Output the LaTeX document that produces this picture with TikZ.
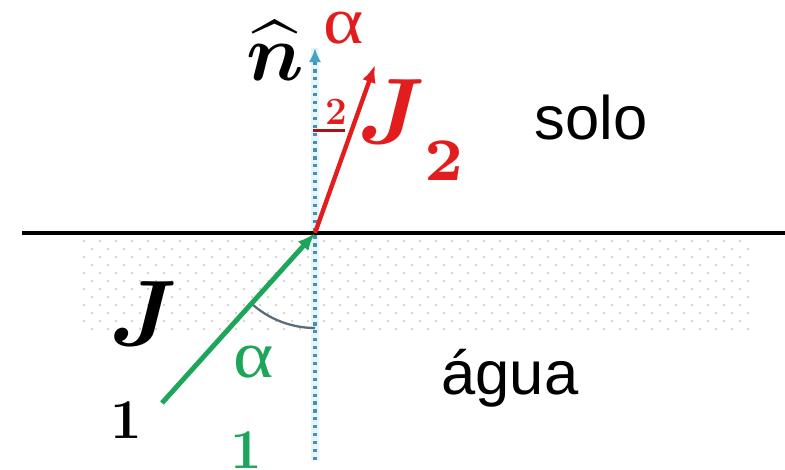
\documentclass[tikz,border=0pt]{standalone}
\usepackage{bm}
\usepackage{fontspec}
\setsansfont{Liberation Sans}
\newfontfamily\alphafont{Liberation Serif}
\usetikzlibrary{arrows.meta,positioning,calc}
\definecolor{vecred}{HTML}{E21D1D}
\definecolor{bardred}{HTML}{A51515}
\definecolor{vecgreen}{HTML}{1DA55A}
\definecolor{normalblue}{HTML}{4A90AE}
\definecolor{tipblue}{HTML}{45A2C8}
\definecolor{normalband}{HTML}{E4F6FA}
\definecolor{arcgray}{HTML}{5A6B7B}
\definecolor{dotgray}{HTML}{ABABAB}

\begin{document}
\begin{tikzpicture}[x=0.02cm,y=0.02cm,>={Latex[length=10pt,width=8pt]}]
\tikzstyle{lbl}=[inner sep=0pt,outer sep=0pt]
\tikzstyle{word}=[lbl,font=\sffamily\fontsize{35}{35}\selectfont,anchor=base]
\tikzstyle{alpha}=[lbl,font=\alphafont\fontsize{38}{38}\selectfont,xscale=1.15]
\tikzstyle{digit}=[lbl,font=\bfseries\fontsize{32}{32}\selectfont]
\tikzstyle{vec}=[lbl,font=\normalsize,scale=5.3,anchor=base west]
\useasboundingbox (0,0) rectangle (785,470);
\foreach \i in {0,...,41}{\foreach \j in {0,...,11}{\fill[dotgray] ({84+16*\i+8*mod(\j,2)},{229-8*\j}) circle[radius=0.55pt];}}
\coordinate (O) at (315,237);
\coordinate (left) at (22,237);
\coordinate (right) at (785,237);
\coordinate (nbot) at (315,10);
\coordinate (ntop) at (315,422);
\coordinate (jone) at (162,67);
\coordinate (jtwo) at (375,405);
\draw[normalband,line width=5pt] (nbot)--(ntop);
\draw[normalblue,line width=1.8pt,dash pattern=on 1.8pt off 2.7pt,-{Latex[length=8pt,width=7pt,color=tipblue]}] (nbot)--(ntop);
\draw[line width=2.8pt] (left)--(right);
\draw[arcgray,line width=1.3pt] ([shift={(227.8:1.9cm)}]O) arc[start angle=227.8,end angle=270,radius=1.9cm];
\draw[vecgreen,line width=2.8pt,->] (jone)--(O);
\draw[vecred,line width=2.5pt,->] (O)--(jtwo);
\node[lbl,font=\normalsize,scale=4.6] (nhat) at (275,419) {$\widehat{\bm n}$};
\node[alpha,vecred] (alphatwo) at (344,442) {α};
\node[lbl,vecred,font=\bfseries\fontsize{22}{22}\selectfont] (two) at (336,358) {2};
\draw[bardred,line width=1.5pt] ($(two.south)+(-23,-6)$)--++(32,0);
\node[vec,vecred] (jtwolbl) at (357,326) {$\bm J$\kern-0.1pt\raisebox{-3.9pt}{\bfseries\fontsize{6.5}{6.5}\selectfont 2}};
\node[word] (solo) at (591,330) {solo};
\node[word] (agua) at (510,75) {água};
\node[vec] (jlbl) at (109,125) {$\bm J$};
\node[alpha,vecgreen] (alphaone) at (254,108) {α};
\node[digit] (one) at (126,50) {1};
\node[digit,vecgreen] (onegreen) at (246,20) {1};
\end{tikzpicture}
\end{document}
